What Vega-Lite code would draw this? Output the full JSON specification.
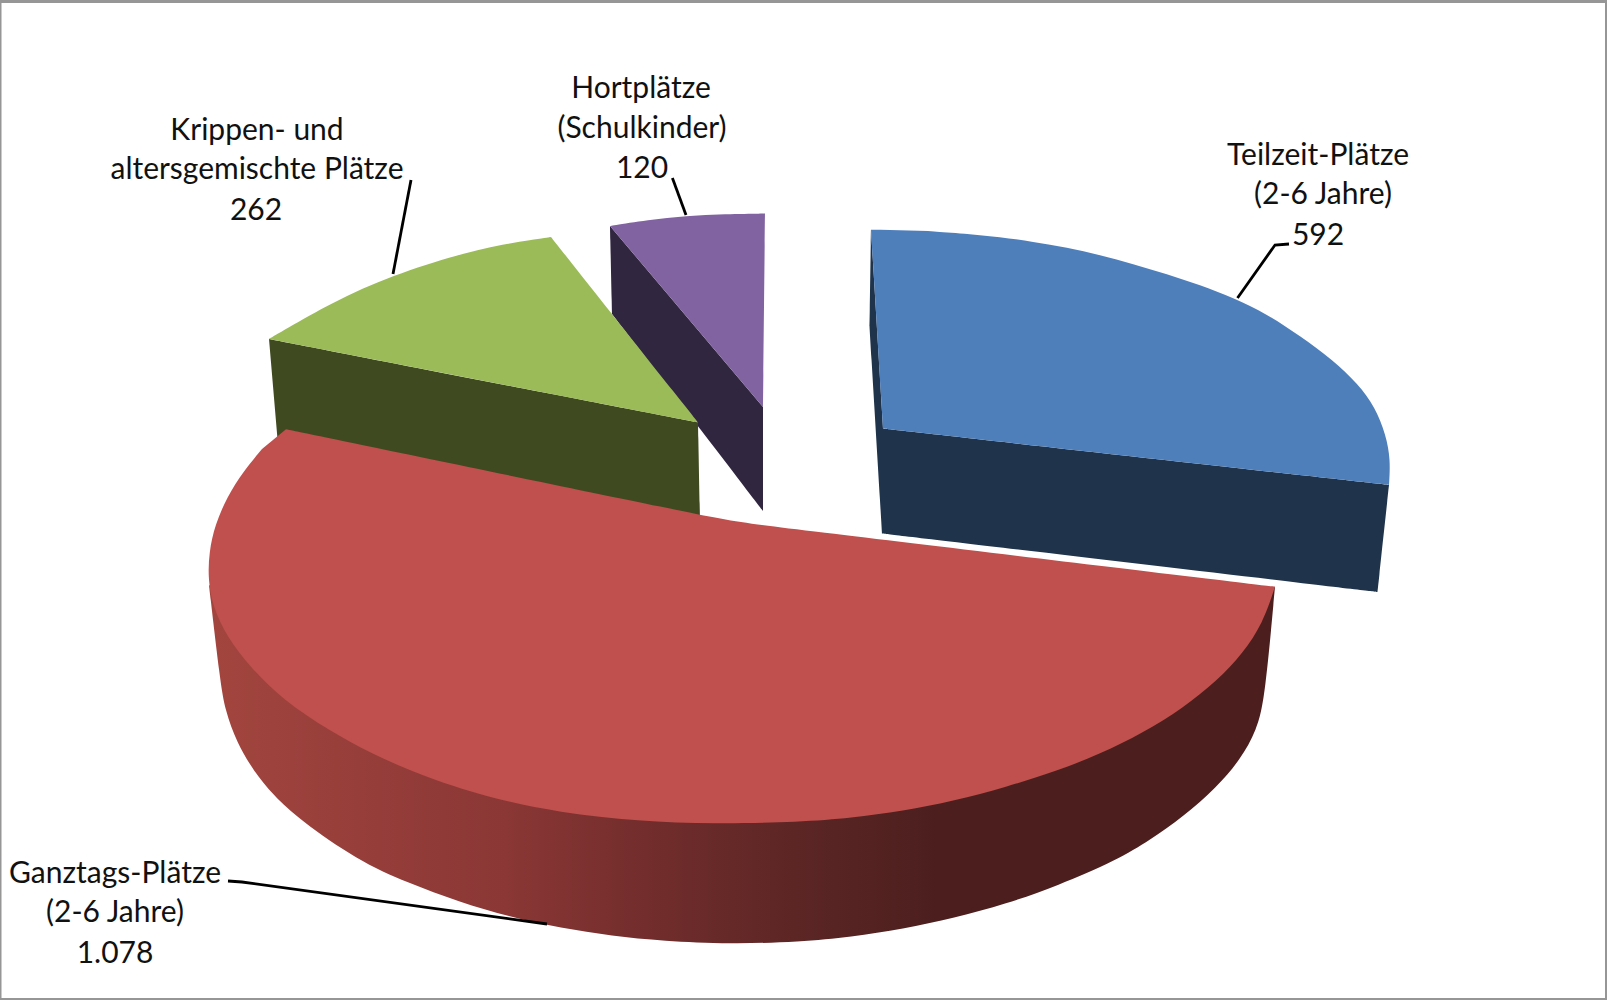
{
  "$schema": "https://vega.github.io/schema/vega-lite/v6.json",
  "description": "Betreuungsplaetze nach Art: exploded pie in perspective. Slice outlines are given in chart units on a shared x/y scale; a repeated outline point keeps a sharp corner under the spline.",
  "autosize": {"type": "fit", "contains": "padding"},
  "width": 1607,
  "height": 1000,
  "padding": 0,
  "background": "white",
  "view": {"stroke": null},
  "datasets": {
    "frame": [
      {"x": 0, "x2": 1607, "y": 0, "y2": 3},
      {"x": 0, "x2": 1.5, "y": 0, "y2": 1000},
      {"x": 1605, "x2": 1607, "y": 0, "y2": 1000},
      {"x": 0, "x2": 1607, "y": 998, "y2": 1000}
    ],
    "rim": [
      {"n":1,"x":209,"y":585},{"n":2,"x":209,"y":585},{"n":3,"x":209,"y":585},
      {"n":4,"x":220,"y":680},{"n":5,"x":225,"y":710},{"n":6,"x":237,"y":743},{"n":7,"x":253,"y":770},{"n":8,"x":273,"y":795},{"n":9,"x":300,"y":820},{"n":10,"x":357,"y":860},{"n":11,"x":408,"y":883},{"n":12,"x":459,"y":902},{"n":13,"x":510,"y":917},{"n":14,"x":561,"y":928},{"n":15,"x":612,"y":936},{"n":16,"x":663,"y":941},{"n":17,"x":730,"y":944},{"n":18,"x":800,"y":942},{"n":19,"x":851,"y":937},{"n":20,"x":903,"y":929},{"n":21,"x":954,"y":918},{"n":22,"x":1006,"y":904},{"n":23,"x":1057,"y":886},{"n":24,"x":1117,"y":860},{"n":25,"x":1150,"y":840},{"n":26,"x":1183,"y":817},{"n":27,"x":1217,"y":787},{"n":28,"x":1240,"y":760},{"n":29,"x":1257,"y":730},{"n":30,"x":1265,"y":697},
      {"n":31,"x":1275,"y":587},{"n":32,"x":1275,"y":587},{"n":33,"x":1275,"y":587},
      {"n":34,"x":1000,"y":700},{"n":35,"x":1000,"y":700},{"n":36,"x":1000,"y":700},
      {"n":37,"x":400,"y":700},{"n":38,"x":400,"y":700},{"n":39,"x":400,"y":700}
    ],
    "faces": [
      {"part":"Hort Seite","n":1,"x":610,"y":226},{"part":"Hort Seite","n":2,"x":610,"y":226},{"part":"Hort Seite","n":3,"x":610,"y":226},
      {"part":"Hort Seite","n":4,"x":612,"y":314},{"part":"Hort Seite","n":5,"x":612,"y":314},{"part":"Hort Seite","n":6,"x":612,"y":314},
      {"part":"Hort Seite","n":7,"x":763,"y":511},{"part":"Hort Seite","n":8,"x":763,"y":511},{"part":"Hort Seite","n":9,"x":763,"y":511},
      {"part":"Hort Seite","n":10,"x":763,"y":407},{"part":"Hort Seite","n":11,"x":763,"y":407},{"part":"Hort Seite","n":12,"x":763,"y":407},

      {"part":"Hort","n":1,"x":763,"y":407},{"part":"Hort","n":2,"x":763,"y":407},{"part":"Hort","n":3,"x":763,"y":407},
      {"part":"Hort","n":4,"x":765,"y":213.6},{"part":"Hort","n":5,"x":765,"y":213.6},{"part":"Hort","n":6,"x":765,"y":213.6},
      {"part":"Hort","n":7,"x":725,"y":214},{"part":"Hort","n":8,"x":686,"y":216},{"part":"Hort","n":9,"x":648,"y":220},
      {"part":"Hort","n":10,"x":610,"y":226},{"part":"Hort","n":11,"x":610,"y":226},{"part":"Hort","n":12,"x":610,"y":226},

      {"part":"Krippe Seite","n":1,"x":269,"y":339},{"part":"Krippe Seite","n":2,"x":269,"y":339},{"part":"Krippe Seite","n":3,"x":269,"y":339},
      {"part":"Krippe Seite","n":4,"x":698,"y":422.5},{"part":"Krippe Seite","n":5,"x":698,"y":422.5},{"part":"Krippe Seite","n":6,"x":698,"y":422.5},
      {"part":"Krippe Seite","n":7,"x":700,"y":520},{"part":"Krippe Seite","n":8,"x":700,"y":520},{"part":"Krippe Seite","n":9,"x":700,"y":520},
      {"part":"Krippe Seite","n":10,"x":278,"y":445},{"part":"Krippe Seite","n":11,"x":278,"y":445},{"part":"Krippe Seite","n":12,"x":278,"y":445},

      {"part":"Krippe","n":1,"x":698,"y":422.5},{"part":"Krippe","n":2,"x":698,"y":422.5},{"part":"Krippe","n":3,"x":698,"y":422.5},
      {"part":"Krippe","n":4,"x":551,"y":237},{"part":"Krippe","n":5,"x":551,"y":237},{"part":"Krippe","n":6,"x":551,"y":237},
      {"part":"Krippe","n":7,"x":510,"y":243},{"part":"Krippe","n":8,"x":459,"y":254},{"part":"Krippe","n":9,"x":393,"y":275},{"part":"Krippe","n":10,"x":332,"y":302},
      {"part":"Krippe","n":11,"x":269,"y":339},{"part":"Krippe","n":12,"x":269,"y":339},{"part":"Krippe","n":13,"x":269,"y":339},

      {"part":"Teilzeit Seite","n":1,"x":871,"y":229},{"part":"Teilzeit Seite","n":2,"x":871,"y":229},{"part":"Teilzeit Seite","n":3,"x":871,"y":229},
      {"part":"Teilzeit Seite","n":4,"x":869.5,"y":326},{"part":"Teilzeit Seite","n":5,"x":869.5,"y":326},{"part":"Teilzeit Seite","n":6,"x":869.5,"y":326},
      {"part":"Teilzeit Seite","n":7,"x":882,"y":533.5},{"part":"Teilzeit Seite","n":8,"x":882,"y":533.5},{"part":"Teilzeit Seite","n":9,"x":882,"y":533.5},
      {"part":"Teilzeit Seite","n":10,"x":1377.5,"y":592},{"part":"Teilzeit Seite","n":11,"x":1377.5,"y":592},{"part":"Teilzeit Seite","n":12,"x":1377.5,"y":592},
      {"part":"Teilzeit Seite","n":13,"x":1389,"y":485},{"part":"Teilzeit Seite","n":14,"x":1389,"y":485},{"part":"Teilzeit Seite","n":15,"x":1389,"y":485},
      {"part":"Teilzeit Seite","n":16,"x":883,"y":428.6},{"part":"Teilzeit Seite","n":17,"x":883,"y":428.6},{"part":"Teilzeit Seite","n":18,"x":883,"y":428.6},

      {"part":"Teilzeit","n":1,"x":871,"y":229.4},{"part":"Teilzeit","n":2,"x":871,"y":229.4},{"part":"Teilzeit","n":3,"x":871,"y":229.4},
      {"part":"Teilzeit","n":4,"x":883,"y":428.6},{"part":"Teilzeit","n":5,"x":883,"y":428.6},{"part":"Teilzeit","n":6,"x":883,"y":428.6},
      {"part":"Teilzeit","n":7,"x":1389,"y":485},{"part":"Teilzeit","n":8,"x":1389,"y":485},{"part":"Teilzeit","n":9,"x":1389,"y":485},
      {"part":"Teilzeit","n":10,"x":1390.5,"y":460},{"part":"Teilzeit","n":11,"x":1386,"y":435},{"part":"Teilzeit","n":12,"x":1375,"y":407},{"part":"Teilzeit","n":13,"x":1358,"y":384},{"part":"Teilzeit","n":14,"x":1333,"y":360},{"part":"Teilzeit","n":15,"x":1300,"y":336},{"part":"Teilzeit","n":16,"x":1267,"y":314},{"part":"Teilzeit","n":17,"x":1233,"y":297.7},{"part":"Teilzeit","n":18,"x":1200,"y":285},{"part":"Teilzeit","n":19,"x":1167,"y":274},{"part":"Teilzeit","n":20,"x":1133,"y":264},{"part":"Teilzeit","n":21,"x":1100,"y":255},{"part":"Teilzeit","n":22,"x":1067,"y":247.5},{"part":"Teilzeit","n":23,"x":1033,"y":241.7},{"part":"Teilzeit","n":24,"x":1000,"y":237},{"part":"Teilzeit","n":25,"x":965,"y":233.5},{"part":"Teilzeit","n":26,"x":928,"y":231},

      {"part":"Ganztag","n":1,"x":286,"y":429.3},{"part":"Ganztag","n":2,"x":286,"y":429.3},{"part":"Ganztag","n":3,"x":286,"y":429.3},
      {"part":"Ganztag","n":4,"x":735,"y":522},{"part":"Ganztag","n":5,"x":735,"y":522},
      {"part":"Ganztag","n":6,"x":1275,"y":586.7},{"part":"Ganztag","n":7,"x":1275,"y":586.7},{"part":"Ganztag","n":8,"x":1275,"y":586.7},
      {"part":"Ganztag","n":9,"x":1263,"y":623},{"part":"Ganztag","n":10,"x":1243,"y":653},{"part":"Ganztag","n":11,"x":1217,"y":681},{"part":"Ganztag","n":12,"x":1183,"y":708},{"part":"Ganztag","n":13,"x":1143,"y":733},{"part":"Ganztag","n":14,"x":1100,"y":754},{"part":"Ganztag","n":15,"x":1057,"y":771},{"part":"Ganztag","n":16,"x":1006,"y":787},{"part":"Ganztag","n":17,"x":954,"y":801},{"part":"Ganztag","n":18,"x":903,"y":811},{"part":"Ganztag","n":19,"x":851,"y":818},{"part":"Ganztag","n":20,"x":800,"y":822},{"part":"Ganztag","n":21,"x":714,"y":824},{"part":"Ganztag","n":22,"x":638,"y":821},{"part":"Ganztag","n":23,"x":561,"y":813},{"part":"Ganztag","n":24,"x":485,"y":797},{"part":"Ganztag","n":25,"x":420,"y":775},{"part":"Ganztag","n":26,"x":370,"y":753},{"part":"Ganztag","n":27,"x":330,"y":731},{"part":"Ganztag","n":28,"x":283,"y":700},{"part":"Ganztag","n":29,"x":250,"y":667},{"part":"Ganztag","n":30,"x":227,"y":637},{"part":"Ganztag","n":31,"x":213,"y":607},{"part":"Ganztag","n":32,"x":208,"y":580},{"part":"Ganztag","n":33,"x":209,"y":552},{"part":"Ganztag","n":34,"x":215,"y":525},{"part":"Ganztag","n":35,"x":227,"y":497},{"part":"Ganztag","n":36,"x":243,"y":472},{"part":"Ganztag","n":37,"x":262,"y":449}
    ],
    "leaders": [
      {"slice":"Krippe","n":1,"x":411,"y":180},{"slice":"Krippe","n":2,"x":393,"y":274},
      {"slice":"Hort","n":1,"x":672.4,"y":178},{"slice":"Hort","n":2,"x":686,"y":215},
      {"slice":"Teilzeit","n":1,"x":1289,"y":244},{"slice":"Teilzeit","n":2,"x":1275,"y":245},{"slice":"Teilzeit","n":3,"x":1237.5,"y":298},
      {"slice":"Ganztag","n":1,"x":228,"y":881},{"slice":"Ganztag","n":2,"x":242,"y":882},{"slice":"Ganztag","n":3,"x":547,"y":924}
    ],
    "labels": [
      {"x":257,"y":140,"text":"Krippen- und"},
      {"x":257,"y":178.6,"text":"altersgemischte Plätze"},
      {"x":256,"y":219.6,"text":"262"},
      {"x":641,"y":98,"text":"Hortplätze"},
      {"x":642,"y":137.5,"text":"(Schulkinder)"},
      {"x":642,"y":177.5,"text":"120"},
      {"x":1318,"y":164.5,"text":"Teilzeit-Plätze"},
      {"x":1323,"y":204,"text":"(2-6 Jahre)"},
      {"x":1318,"y":245,"text":"592"},
      {"x":115,"y":882.7,"text":"Ganztags-Plätze"},
      {"x":115,"y":921.7,"text":"(2-6 Jahre)"},
      {"x":115,"y":962.7,"text":"1.078"}
    ]
  },
  "data": {"name": "faces"},
  "layer": [
    {
      "data": {"name": "frame"},
      "mark": {"type": "rect", "fill": "#969696", "stroke": null},
      "encoding": {
        "x": {"field": "x", "type": "quantitative", "scale": {"domain": [0, 1607], "nice": false, "zero": false}, "axis": null},
        "x2": {"field": "x2"},
        "y": {"field": "y", "type": "quantitative", "scale": {"domain": [1000, 0], "nice": false, "zero": false}, "axis": null},
        "y2": {"field": "y2"}
      }
    },
    {
      "data": {"name": "rim"},
      "mark": {
        "type": "line",
        "interpolate": "basis",
        "strokeWidth": 0,
        "fill": {
          "gradient": "linear", "x1": 0, "y1": 0, "x2": 1, "y2": 0,
          "stops": [
            {"offset": 0, "color": "#a3453f"},
            {"offset": 0.28, "color": "#8a3735"},
            {"offset": 0.41, "color": "#722d2c"},
            {"offset": 0.55, "color": "#5c2625"},
            {"offset": 0.68, "color": "#4c1f1e"},
            {"offset": 1, "color": "#4c1f1e"}
          ]
        }
      },
      "encoding": {
        "x": {"field": "x", "type": "quantitative"},
        "y": {"field": "y", "type": "quantitative"},
        "order": {"field": "n", "type": "quantitative"}
      }
    },
    {
      "mark": {"type": "line", "interpolate": "basis", "strokeWidth": 0},
      "encoding": {
        "x": {"field": "x", "type": "quantitative"},
        "y": {"field": "y", "type": "quantitative"},
        "order": {"field": "n", "type": "quantitative"},
        "detail": {"field": "part"},
        "fill": {
          "field": "part",
          "type": "nominal",
          "legend": null,
          "scale": {
            "domain": ["Hort Seite", "Hort", "Krippe Seite", "Krippe", "Teilzeit Seite", "Teilzeit", "Ganztag"],
            "range": ["#312640", "#8063a0", "#404a21", "#9bbb59", "#1f334b", "#4f7fbb", "#bf504d"]
          }
        }
      }
    },
    {
      "data": {"name": "leaders"},
      "mark": {"type": "line", "stroke": "black", "strokeWidth": 2.8},
      "encoding": {
        "x": {"field": "x", "type": "quantitative"},
        "y": {"field": "y", "type": "quantitative"},
        "order": {"field": "n", "type": "quantitative"},
        "detail": {"field": "slice"}
      }
    },
    {
      "data": {"name": "labels"},
      "mark": {"type": "text", "font": "Lato", "fontSize": 30, "align": "center", "baseline": "alphabetic", "color": "#111111"},
      "encoding": {
        "x": {"field": "x", "type": "quantitative"},
        "y": {"field": "y", "type": "quantitative"},
        "text": {"field": "text"}
      }
    }
  ]
}
